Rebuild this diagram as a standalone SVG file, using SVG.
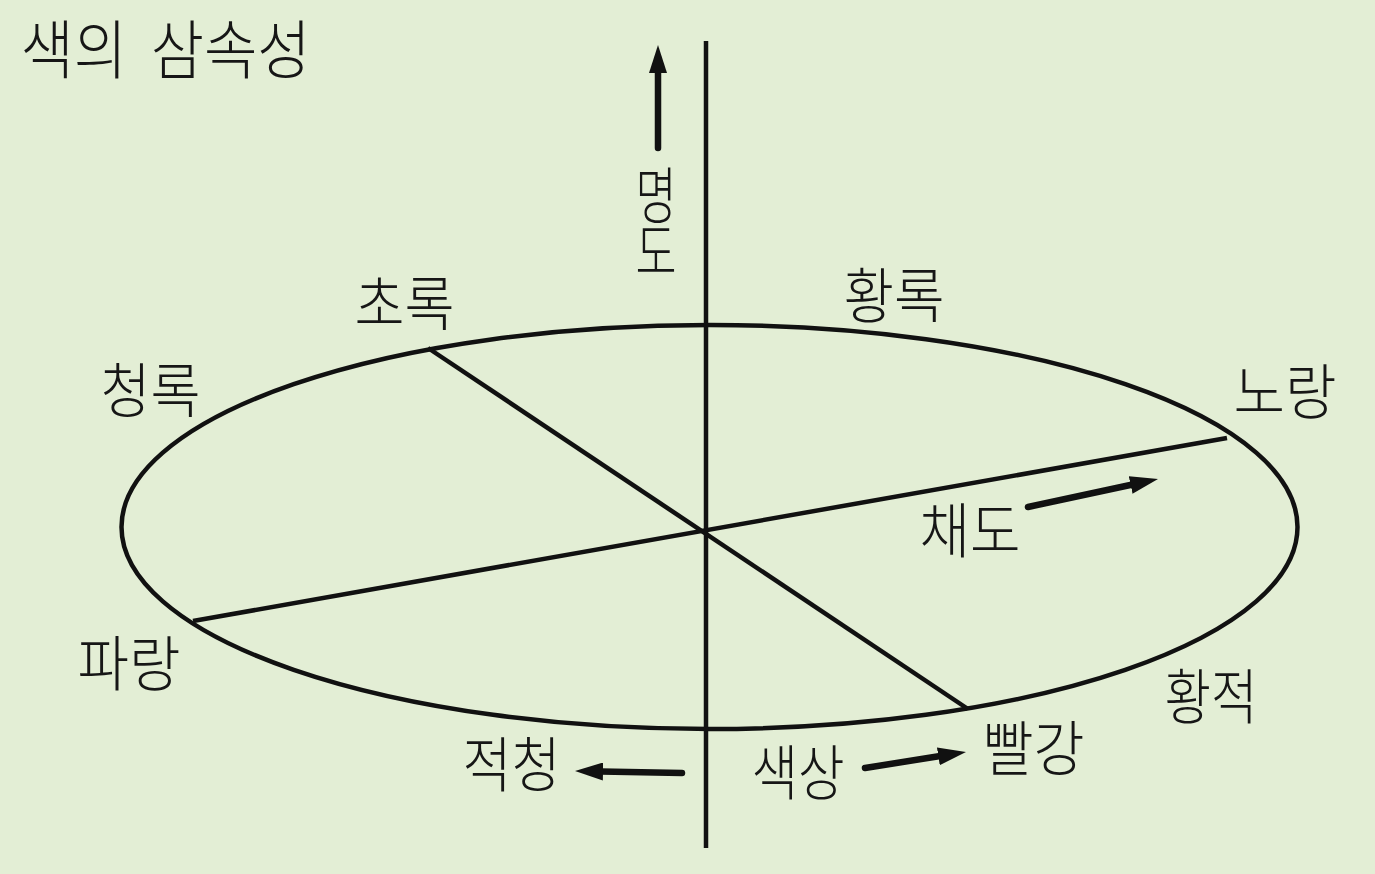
<svg xmlns="http://www.w3.org/2000/svg" width="1375" height="874" viewBox="0 0 1375 874">
  <style>
    .lbl { font-family: "Noto Sans CJK KR", "Noto Sans", sans-serif; font-size: 60px; font-weight: 300; fill: #161616; text-anchor: middle; }
    .title { font-size: 64px; word-spacing: 12px; }
    .vert { font-family: "Noto Sans CJK KR", "Noto Sans", sans-serif; font-size: 62px; font-weight: 300; fill: #161616; writing-mode: vertical-rl; text-orientation: upright; letter-spacing: -6px; }
    .ln { stroke: #111; stroke-width: 4.5; fill: none; }
    .arr { stroke: #111; stroke-width: 6.5; stroke-linecap: round; fill: none; marker-end: url(#head); }
  </style>
  <defs>
    <marker id="head" viewBox="0 0 28 18" refX="2" refY="9" markerWidth="28" markerHeight="18" markerUnits="userSpaceOnUse" orient="auto">
      <path d="M0,0 L28,9 L0,18 z" fill="#111"/>
    </marker>
  </defs>
  <rect x="0" y="0" width="1375" height="874" fill="#e3eed5"/>

  <g id="title">
    <text class="lbl title" x="165.5" y="73" textLength="290" lengthAdjust="spacingAndGlyphs">색의 삼속성</text>
  </g>

  <g id="connectors">
    <ellipse class="ln" cx="709.5" cy="527" rx="588" ry="202"/>
    <line class="ln" x1="706" y1="41" x2="706" y2="848"/>
    <line class="ln" x1="428" y1="348" x2="968" y2="709"/>
    <line class="ln" x1="193" y1="621" x2="1227" y2="438"/>
    <line class="arr" x1="658" y1="148" x2="658" y2="71"/>
    <line class="arr" x1="1028" y1="507" x2="1132.6" y2="484.5"/>
    <line class="arr" x1="682" y1="773" x2="601" y2="771.5"/>
    <line class="arr" x1="865" y1="768" x2="940.3" y2="756"/>
  </g>

  <g id="axis-brightness">
    <text class="vert" transform="translate(656,164) scale(0.72,1)" x="0" y="0">명도</text>
  </g>
  <g id="node-green"><text class="lbl" x="404.5" y="326" textLength="100" lengthAdjust="spacingAndGlyphs">초록</text></g>
  <g id="node-yellowgreen"><text class="lbl" x="894" y="318" textLength="101" lengthAdjust="spacingAndGlyphs">황록</text></g>
  <g id="node-bluegreen"><text class="lbl" x="150.5" y="413" textLength="100" lengthAdjust="spacingAndGlyphs">청록</text></g>
  <g id="node-yellow"><text class="lbl" x="1285" y="414" textLength="103" lengthAdjust="spacingAndGlyphs">노랑</text></g>
  <g id="axis-chroma"><text class="lbl" x="970" y="553" textLength="101" lengthAdjust="spacingAndGlyphs">채도</text></g>
  <g id="node-blue"><text class="lbl" x="129" y="686" textLength="103" lengthAdjust="spacingAndGlyphs">파랑</text></g>
  <g id="node-orange"><text class="lbl" x="1211" y="719" textLength="93" lengthAdjust="spacingAndGlyphs">황적</text></g>
  <g id="node-red"><text class="lbl" x="1033.5" y="771" textLength="102" lengthAdjust="spacingAndGlyphs">빨강</text></g>
  <g id="node-purple"><text class="lbl" x="511.5" y="787" textLength="98" lengthAdjust="spacingAndGlyphs">적청</text></g>
  <g id="axis-hue"><text class="lbl" x="798" y="795" textLength="93" lengthAdjust="spacingAndGlyphs">색상</text></g>
</svg>
